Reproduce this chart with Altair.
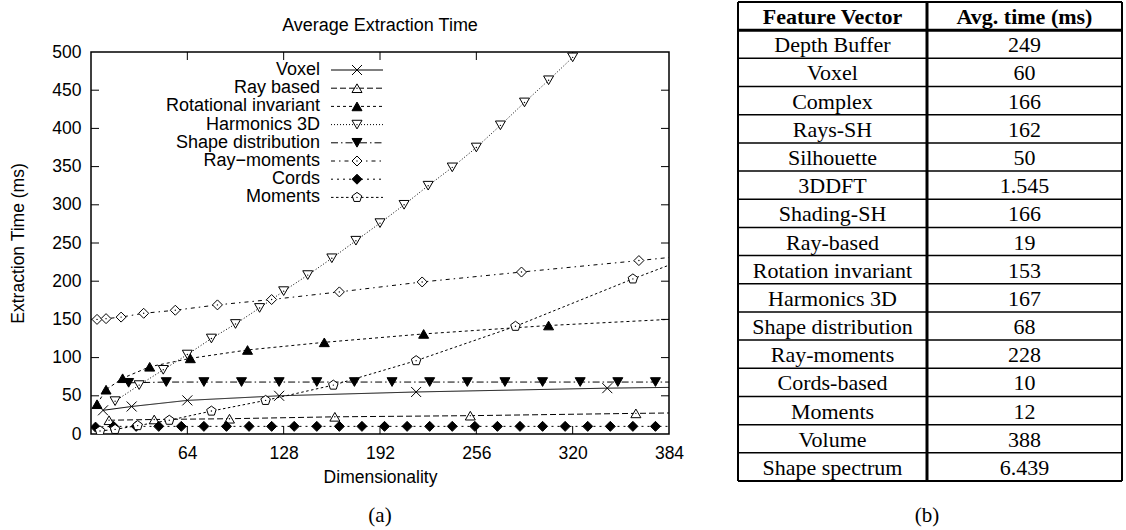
import altair as alt
import pandas as pd

# ---------------- (a) chart data ----------------
series_names = ["Voxel", "Ray based", "Rotational invariant", "Harmonics 3D",
                "Shape distribution", "Ray\u2212moments", "Cords", "Moments"]

voxel_dim = [8, 27, 64, 125, 216, 343]
voxel_ms = [31, 36, 44, 50, 55, 60]

raybased_dim = [12, 42, 92, 162, 252, 362]
raybased_ms = [18, 19, 20, 22.5, 24, 27]

rotinv_dim = [4, 10, 21, 39, 66, 104, 155, 221, 304]
rotinv_ms = [39, 58, 73, 88, 99, 110, 120, 131, 142]

harm_dim = [16, 32, 48, 64, 80, 96, 112, 128, 144, 160, 176, 192, 208, 224,
            240, 256, 272, 288, 304, 320]
harm_ms = [43, 64, 84, 104, 125, 144, 165, 187, 208, 230, 253, 276, 300, 325,
           349, 375, 404, 434, 463, 493]

shape_dim = [25, 50, 75, 100, 125, 150, 175, 200, 225, 250, 275, 300, 325, 350, 375]
shape_ms = [67, 68, 68, 68, 68, 68, 68, 68, 68, 68, 68, 68, 68, 68, 68]

raymom_dim = [4, 10, 20, 35, 56, 84, 120, 165, 220, 286, 364]
raymom_ms = [150, 151, 153, 158, 162, 169, 176, 186, 199, 212, 227]

cords_dim = [3, 15, 30, 45, 60, 75, 90, 105, 120, 135, 150, 165, 180, 195, 210,
             225, 240, 255, 270, 285, 300, 315, 330, 345, 360, 375]
cords_ms = [9, 10, 10, 10, 10, 10, 10, 10, 10, 10, 10, 10, 10, 10, 10,
            10, 10, 10, 10, 10, 10, 10, 10, 10, 10, 10]

moments_dim = [6, 16, 31, 52, 80, 116, 161, 216, 282, 360]
moments_ms = [4, 6, 11, 18, 30, 44, 64, 96, 141, 203]

# value where each line leaves the right frame (x = 384); None = ends at last marker
edge_ms = [61, 27.5, 150, None, 68, 231, 10, 221]

x_ticks = [64, 128, 192, 256, 320, 384]
y_ticks = [0, 50, 100, 150, 200, 250, 300, 350, 400, 450, 500]

# ---------------- (b) table data ----------------
table_header = ["Feature Vector", "Avg. time (ms)"]
table_feature = ["Depth Buffer", "Voxel", "Complex", "Rays-SH", "Silhouette", "3DDFT",
                 "Shading-SH", "Ray-based", "Rotation invariant", "Harmonics 3D",
                 "Shape distribution", "Ray-moments", "Cords-based", "Moments",
                 "Volume", "Shape spectrum"]
table_time = ["249", "60", "166", "162", "50", "1.545", "166", "19", "153", "167",
              "68", "228", "10", "12", "388", "6.439"]

# ---------------- styles ----------------
X_PATH = "M-1,-1L1,1M-1,1L1,-1"
PENT_PATH = "M0,-1L0.951,-0.309L0.588,0.809L-0.588,0.809L-0.951,-0.309Z"
shapes = [X_PATH, "triangle-up", "triangle-up", "triangle-down", "triangle-down",
          "diamond", "diamond", PENT_PATH]
fills = ["white", "white", "black", "white", "black", "white", "black", "white"]
dashes = [[1, 0], [6, 3], [3, 3], [1, 2], [7, 3, 1.5, 3], [4, 4, 1.5, 4], [2, 4], [2.5, 2.5]]
open_series = ["Ray based", "Harmonics 3D", "Ray\u2212moments", "Moments"]

SANS = "Liberation Sans"
SERIF = "Liberation Serif"
FS = 17.5
LFS = 18
MSIZE = 100
W, H = 578, 382
TOP = 50  # space above plot area

all_dims = [voxel_dim, raybased_dim, rotinv_dim, harm_dim, shape_dim, raymom_dim, cords_dim, moments_dim]
all_vals = [voxel_ms, raybased_ms, rotinv_ms, harm_ms, shape_ms, raymom_ms, cords_ms, moments_ms]

pts, lns = [], []
for name, ds, vs, e in zip(series_names, all_dims, all_vals, edge_ms):
    for d, v in zip(ds, vs):
        pts.append({"series": name, "dim": d, "ms": v})
        lns.append({"series": name, "dim": d, "ms": v})
    if e is not None:
        lns.append({"series": name, "dim": 384, "ms": e})
pts_df = pd.DataFrame(pts)
lns_df = pd.DataFrame(lns)
dots_df = pts_df[pts_df["series"].isin(open_series)]

xscale = alt.Scale(domain=[0, 384], nice=False, zero=False)
yscale = alt.Scale(domain=[0, 500], nice=False)
axis_common = dict(ticks=False, domain=False, grid=False, labelPadding=10,
                   labelFontSize=FS, titleFontSize=FS, labelFont=SANS, titleFont=SANS,
                   titleFontWeight="normal", labelColor="black", titleColor="black",
                   labelFlush=False, labelOverlap=False)
xaxis = alt.Axis(values=x_ticks, title="Dimensionality", titlePadding=7, **axis_common)
yaxis = alt.Axis(values=y_ticks, title="Extraction Time (ms)", titlePadding=24, **axis_common)


def X(f):
    return alt.X(f"{f}:Q", scale=xscale, axis=xaxis)


def Y(f):
    return alt.Y(f"{f}:Q", scale=yscale, axis=yaxis)


dash_enc = alt.StrokeDash("series:N", scale=alt.Scale(domain=series_names, range=dashes), legend=None)
shape_enc = alt.Shape("series:N", scale=alt.Scale(domain=series_names, range=shapes), legend=None)
fill_enc = alt.Fill("series:N", scale=alt.Scale(domain=series_names, range=fills), legend=None)

xt_df = pd.DataFrame({"dim": x_ticks[:-1]})
yt_df = pd.DataFrame({"ms": y_ticks[1:-1]})

tick_b = alt.Chart(xt_df).mark_rule(color="black", strokeWidth=1).encode(
    x=X("dim"), y=alt.value(H), y2=alt.value(H - 8))
tick_t = alt.Chart(xt_df).mark_rule(color="black", strokeWidth=1).encode(
    x=X("dim"), y=alt.value(0), y2=alt.value(8))
tick_l = alt.Chart(yt_df).mark_rule(color="black", strokeWidth=1).encode(
    y=Y("ms"), x=alt.value(0), x2=alt.value(8))
tick_r = alt.Chart(yt_df).mark_rule(color="black", strokeWidth=1).encode(
    y=Y("ms"), x=alt.value(W), x2=alt.value(W - 8))

lines = alt.Chart(lns_df).mark_line(color="black", strokeWidth=1, clip=True).encode(
    x=X("dim"), y=Y("ms"), detail="series:N", strokeDash=dash_enc)
points = alt.Chart(pts_df).mark_point(filled=False, stroke="black", strokeWidth=1,
                                      opacity=1, size=MSIZE, clip=True).encode(
    x=X("dim"), y=Y("ms"), shape=shape_enc, fill=fill_enc)
dots = alt.Chart(dots_df).mark_point(shape="circle", filled=True, color="black",
                                     opacity=1, size=2).encode(x=X("dim"), y=Y("ms"))

main = alt.layer(tick_b, tick_t, tick_l, tick_r, lines, points, dots)

# legend (inside plot, text right-aligned left of sample)
leg_df = pd.DataFrame({"series": series_names, "idx": list(range(len(series_names)))})
leg_y = alt.Y("idx:Q", scale=alt.Scale(domain=[0, 7], range=[18, 18 + 7 * 18.2]), axis=None)
leg_text = alt.Chart(leg_df).mark_text(align="right", baseline="middle", font=SANS,
                                       fontSize=LFS, color="black").encode(
    x=alt.value(229), y=leg_y, text="series:N")
leg_line = alt.Chart(leg_df).mark_rule(color="black", strokeWidth=1).encode(
    x=alt.value(240), x2=alt.value(292), y=leg_y, strokeDash=dash_enc)
leg_pt = alt.Chart(leg_df).mark_point(filled=False, stroke="black", strokeWidth=1,
                                      opacity=1, size=MSIZE).encode(
    x=alt.value(266), y=leg_y, shape=shape_enc, fill=fill_enc)
leg_dot = alt.Chart(leg_df[leg_df["series"].isin(open_series)]).mark_point(
    shape="circle", filled=True, color="black", opacity=1, size=2).encode(
    x=alt.value(266), y=leg_y)
legend = alt.layer(leg_line, leg_pt, leg_dot, leg_text)

one = pd.DataFrame({"k": [0]})
title_txt = alt.Chart(one).mark_text(font=SANS, fontSize=LFS, color="black",
                                     align="center", baseline="middle").encode(
    x=alt.value(W / 2), y=alt.value(-26), text=alt.value("Average Extraction Time"))
a_txt = alt.Chart(one).mark_text(font=SERIF, fontSize=21, color="black",
                                 align="center", baseline="middle").encode(
    x=alt.value(W / 2), y=alt.value(464), text=alt.value("(a)"))
top_pad = alt.Chart(one).mark_rule(color="white", strokeWidth=1).encode(
    x=alt.value(0), y=alt.value(-TOP + 0.5), y2=alt.value(-TOP + 1.5))

chart_a = alt.layer(main, legend, title_txt, a_txt, top_pad).resolve_scale(
    y="independent").properties(
    width=W, height=H, view=alt.ViewBackground(stroke="black", strokeWidth=1.5))

# ---------------- (b) table ----------------
TW, TH = 384, 480
DIV = 189
n_rows = len(table_feature) + 1
col_c = [DIV / 2, (DIV + TW) / 2]
OFF = TOP + 1  # table starts at top of page

tx = alt.Scale(domain=[0, TW], nice=False, zero=False)
ty = alt.Scale(domain=[0, n_rows], nice=False, range=[-OFF + 1, TH - OFF])

hdr_df = pd.DataFrame({"label": table_header, "cx": col_c, "cy": [0.5, 0.5]})
body = []
for i, (f, t) in enumerate(zip(table_feature, table_time)):
    body.append({"label": f, "cx": col_c[0], "cy": i + 1.5})
    body.append({"label": t, "cx": col_c[1], "cy": i + 1.5})
body_df = pd.DataFrame(body)

hw = [2, 3] + [1.5] * (n_rows - 2) + [2]
hl_df = pd.DataFrame({"b": list(range(n_rows + 1)), "w": hw})
vl_df = pd.DataFrame({"vb": [0, DIV, TW], "w": [2, 3, 2]})

hlines = alt.Chart(hl_df).mark_rule(color="black").encode(
    y=alt.Y("b:Q", scale=ty, axis=None), x=alt.value(0), x2=alt.value(TW),
    strokeWidth=alt.StrokeWidth("w:Q", scale=None))
vlines = alt.Chart(vl_df).mark_rule(color="black").encode(
    x=alt.X("vb:Q", scale=tx, axis=None), y=alt.value(-OFF + 1), y2=alt.value(TH - OFF),
    strokeWidth=alt.StrokeWidth("w:Q", scale=None))
hdr_txt = alt.Chart(hdr_df).mark_text(font=SERIF, fontSize=22, fontWeight="bold",
                                      color="black", baseline="middle", dy=1).encode(
    x=alt.X("cx:Q", scale=tx, axis=None), y=alt.Y("cy:Q", scale=ty, axis=None), text="label:N")
body_txt = alt.Chart(body_df).mark_text(font=SERIF, fontSize=22, color="black",
                                        baseline="middle", dy=1).encode(
    x=alt.X("cx:Q", scale=tx, axis=None), y=alt.Y("cy:Q", scale=ty, axis=None), text="label:N")
b_txt = alt.Chart(one).mark_text(font=SERIF, fontSize=21, color="black",
                                 align="center", baseline="middle").encode(
    x=alt.value(DIV), y=alt.value(515 - OFF), text=alt.value("(b)"))

table = alt.layer(hlines, vlines, hdr_txt, body_txt, b_txt).properties(
    width=TW, height=TH - OFF, view=alt.ViewBackground(stroke="transparent"))

chart = alt.hconcat(chart_a, table, spacing=51).properties(
    padding={"left": 9, "top": 0, "right": 0, "bottom": 0},
    background="white")

chart.save("out.html", embed_options={"renderer": "svg", "actions": False})
